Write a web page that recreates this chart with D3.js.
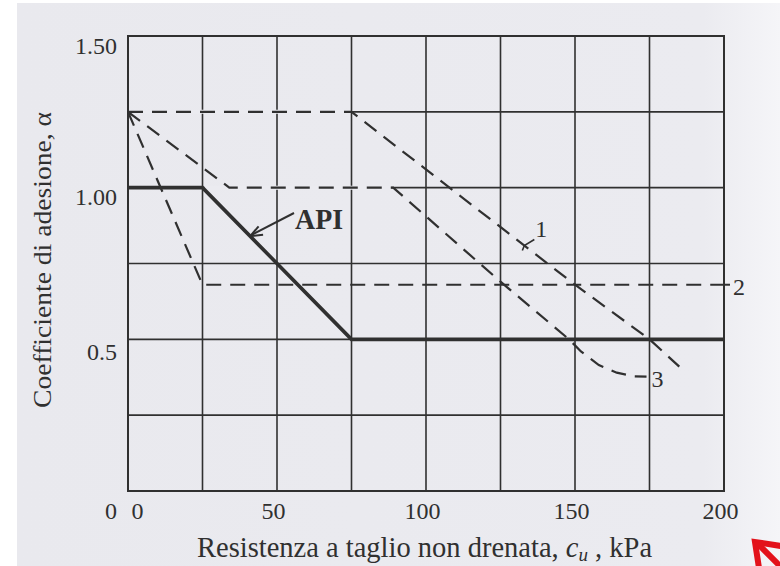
<!DOCTYPE html>
<html>
<head>
<meta charset="utf-8">
<script src="https://cdn.jsdelivr.net/npm/d3@7/dist/d3.min.js"></script>
<style>
  html, body { margin: 0; padding: 0; background: #ffffff; }
  svg { display: block; }
</style>
</head>
<body>
<div id="chart"></div>
<script>
// Adhesion factor α versus undrained shear strength cu (kPa)
const xTicks = [0, 50, 100, 150, 200];
const xTickLabels = ["0", "50", "100", "150", "200"];
const yTicks = [0, 0.5, 1.0, 1.5];
const yTickLabels = ["0", "0.5", "1.00", "1.50"];
const gridCu = [0, 25, 50, 75, 100, 125, 150, 175, 200];
const gridAlpha = [0, 0.25, 0.5, 0.75, 1.0, 1.25, 1.5];

// API recommendation (solid)
const apiCu    = [0, 25, 75, 200];
const apiAlpha = [1.0, 1.0, 0.5, 0.5];

// Dashed curves 1, 2, 3
const curve1Cu    = [0, 75, 150, 175, 185];
const curve1Alpha = [1.25, 1.25, 0.68, 0.50, 0.41];
const curve2Cu    = [0, 25, 200];
const curve2Alpha = [1.25, 0.68, 0.68];
const curve3Cu    = [0, 34, 89, 125, 148, 152, 158, 164, 170, 174];
const curve3Alpha = [1.25, 1.0, 1.0, 0.69, 0.50, 0.46, 0.415, 0.39, 0.378, 0.377];

// Stretches where a dashed curve runs along a grid line (grid hidden there)
const gapAlpha = [1.25, 1.0];
const gapFrom  = [0, 25];
const gapTo    = [75, 89];

const W = 780, H = 566;
const svg = d3.select("#chart").append("svg")
  .attr("width", W).attr("height", H)
  .attr("viewBox", `0 0 ${W} ${H}`);

const serif = "'Liberation Serif', 'DejaVu Serif', Times, serif";
const ink = "#303030";
const paper = "#ebebf0";

// paper background
const defs = svg.append("defs");
const grad = defs.append("linearGradient").attr("id", "paperGrad")
  .attr("x1", 0).attr("x2", 1).attr("y1", 0).attr("y2", 0);
grad.append("stop").attr("offset", "0%").attr("stop-color", "#e9e9ee");
grad.append("stop").attr("offset", "90%").attr("stop-color", "#ebebf0");
grad.append("stop").attr("offset", "100%").attr("stop-color", "#f5f5f8");
svg.append("rect").attr("x", 17).attr("y", 3).attr("width", W - 17).attr("height", H - 3)
  .attr("fill", "url(#paperGrad)");

const x = d3.scaleLinear().domain([0, 200]).range([128, 724]);
const y = d3.scaleLinear().domain([0, 1.5]).range([491, 36]);

// grid
const grid = svg.append("g").attr("stroke", ink).attr("stroke-width", 1.6);
grid.selectAll("line.v").data(gridCu).join("line").attr("class", "v")
  .attr("x1", d => x(d)).attr("x2", d => x(d))
  .attr("y1", y(1.5)).attr("y2", y(0));
grid.selectAll("line.h").data(gridAlpha).join("line").attr("class", "h")
  .attr("x1", x(0)).attr("x2", x(200))
  .attr("y1", d => y(d)).attr("y2", d => y(d));

// hide grid under the horizontal dashed stretches
svg.append("g").selectAll("line").data(gapAlpha).join("line")
  .attr("x1", (d, i) => x(gapFrom[i]) + 2).attr("x2", (d, i) => x(gapTo[i]) - 2)
  .attr("y1", d => y(d)).attr("y2", d => y(d))
  .attr("stroke", paper).attr("stroke-width", 4);

// frame
svg.append("rect")
  .attr("x", x(0)).attr("y", y(1.5))
  .attr("width", x(200) - x(0)).attr("height", y(0) - y(1.5))
  .attr("fill", "none").attr("stroke", ink).attr("stroke-width", 2);

const line = d3.line().x(d => x(d[0])).y(d => y(d[1]));
const pts = (cu, a) => cu.map((c, i) => [c, a[i]]);

// dashed curves
[[curve1Cu, curve1Alpha], [curve2Cu, curve2Alpha], [curve3Cu, curve3Alpha]].forEach(([cu, a]) => {
  svg.append("path")
    .attr("d", line(pts(cu, a)))
    .attr("fill", "none").attr("stroke", ink)
    .attr("stroke-width", 2.2).attr("stroke-dasharray", "15,9");
});

// API line
svg.append("path")
  .attr("d", line(pts(apiCu, apiAlpha)))
  .attr("fill", "none").attr("stroke", ink)
  .attr("stroke-width", 3.6).attr("stroke-linejoin", "miter");

// axes (labels only)
const xAxis = d3.axisBottom(x).tickValues(xTicks).tickSize(0)
  .tickFormat((d, i) => xTickLabels[i]);
const gx = svg.append("g").attr("transform", `translate(0,${y(0)})`).call(xAxis);
gx.select(".domain").remove();
gx.selectAll("text")
  .attr("font-family", serif).attr("font-size", 24).attr("fill", ink)
  .attr("dy", "1.05em")
  .attr("dx", d => d === 0 ? 9 : -4);

const yAxis = d3.axisLeft(y).tickValues(yTicks).tickSize(0)
  .tickFormat((d, i) => yTickLabels[i]);
const gy = svg.append("g").attr("transform", `translate(${x(0)},0)`).call(yAxis);
gy.select(".domain").remove();
gy.selectAll("text")
  .attr("font-family", serif).attr("font-size", 24).attr("fill", ink)
  .attr("x", -11)
  .attr("dy", d => d === 0 ? 27 : (d === 0.5 ? 20 : 17));

// axis titles
svg.append("text")
  .attr("transform", `translate(51,${(112 + 408) / 2}) rotate(-90)`)
  .attr("text-anchor", "middle")
  .attr("font-family", serif).attr("font-size", 25).attr("fill", ink)
  .attr("textLength", 296).attr("lengthAdjust", "spacingAndGlyphs")
  .text("Coefficiente di adesione, α");

const xt = svg.append("text")
  .attr("x", 197).attr("y", 557)
  .attr("font-family", serif).attr("font-size", 28.5).attr("fill", ink);
xt.append("tspan").text("Resistenza a taglio non drenata, ");
xt.append("tspan").attr("font-style", "italic").text("c");
xt.append("tspan").attr("font-style", "italic").attr("font-size", 19).attr("dy", 4).text("u");
xt.append("tspan").attr("dy", -4).text(" , kPa");

// API label with arrow to the line
const tipCu = 41, tipA = 1.0 - (tipCu - 25) * 0.01;
const tx = x(tipCu), ty = y(tipA);
svg.append("line").attr("x1", 294).attr("y1", 213).attr("x2", tx + 1).attr("y2", ty - 1)
  .attr("stroke", ink).attr("stroke-width", 2);
const ang = Math.atan2(213 - ty, 294 - tx);
[0.38, -0.38].forEach(o => {
  svg.append("line")
    .attr("x1", tx).attr("y1", ty)
    .attr("x2", tx + 13 * Math.cos(ang + o)).attr("y2", ty + 13 * Math.sin(ang + o))
    .attr("stroke", ink).attr("stroke-width", 2);
});
svg.append("text")
  .attr("x", 295).attr("y", 229)
  .attr("font-family", serif).attr("font-size", 30).attr("font-weight", "bold").attr("fill", ink)
  .attr("textLength", 48).attr("lengthAdjust", "spacingAndGlyphs")
  .text("API");

// curve labels
const c1 = [133, 1.25 - (133 - 75) * 0.0076];
svg.append("path")
  .attr("d", `M${x(c1[0]) - 2},${y(c1[1]) + 5} L${x(c1[0])},${y(c1[1])} L${x(c1[0]) + 10},${y(c1[1]) - 6}`)
  .attr("fill", "none").attr("stroke", ink).attr("stroke-width", 1.6);
svg.append("text").attr("x", x(c1[0]) + 11).attr("y", y(c1[1]) - 9)
  .attr("font-family", serif).attr("font-size", 24).attr("fill", ink).text("1");
svg.append("line")
  .attr("x1", x(200)).attr("x2", x(200) + 6).attr("y1", y(0.68)).attr("y2", y(0.68))
  .attr("stroke", ink).attr("stroke-width", 2);
svg.append("text").attr("x", x(200) + 9).attr("y", y(0.68) + 10)
  .attr("font-family", serif).attr("font-size", 24).attr("fill", ink).text("2");
svg.append("text").attr("x", x(174) + 5).attr("y", y(0.377) + 10)
  .attr("font-family", serif).attr("font-size", 24).attr("fill", ink).text("3");

// red pointer in the lower right corner
const red = svg.append("g").attr("stroke", "#e3121b").attr("stroke-width", 6)
  .attr("stroke-linecap", "butt").attr("fill", "none");
red.append("line").attr("x1", 782).attr("y1", 568).attr("x2", 757).attr("y2", 543);
red.append("path").attr("d", "M759,568 L755,542 L781,546")
  .attr("stroke-linejoin", "miter");
</script>
</body>
</html>
